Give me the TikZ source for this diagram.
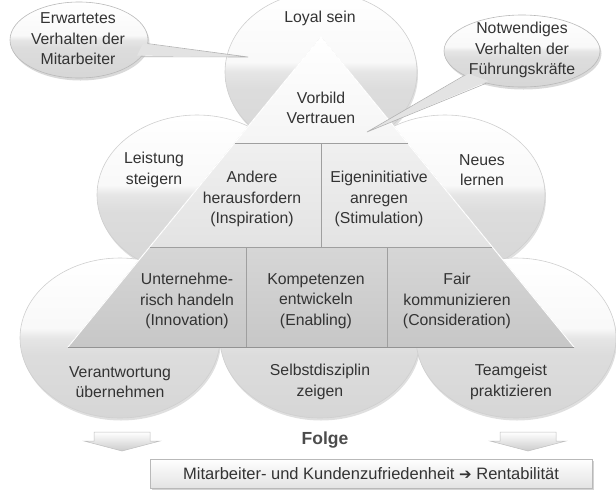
\documentclass[tikz,border=0pt]{standalone}
\usepackage{fontspec}
\setmainfont{Liberation Sans}
\newfontfamily\symfont{DejaVu Sans}
\usetikzlibrary{shapes.geometric,shadows,calc}
\definecolor{txt}{HTML}{333333}
\colorlet{bubA}{gray!32}
\colorlet{bubB}{gray!27}
\colorlet{bubC}{gray!20}
\colorlet{bubD}{gray!5}
\pgfdeclareverticalshading{bubble}{100bp}{color(0bp)=(bubA); color(25bp)=(bubA); color(45bp)=(bubB); color(50bp)=(bubC); color(53bp)=(bubD); color(75bp)=(white); color(100bp)=(white)}
\begin{document}
\begin{tikzpicture}[x=1pt,y=-1pt,
  bubblebox/.style={ellipse, inner sep=0pt, minimum width=200pt, minimum height=160pt,
    shading=bubble, draw=gray!38, line width=0.6pt,
    drop shadow={opacity=0.25, shadow xshift=1pt, shadow yshift=-2.5pt}},
  calloutbox/.style={ellipse, inner sep=0pt, shading=bubble, draw=gray!55, line width=0.6pt,
    drop shadow={opacity=0.3, shadow xshift=1.5pt, shadow yshift=-2.5pt}},
  lbl/.style={text=txt, font=\fontsize{15.8}{20.5}\selectfont, align=center, inner sep=0pt},
  sep/.style={draw=gray!75, line width=0.7pt},
  pointer/.style={fill=gray!22},
  pointeredge/.style={draw=gray!60, line width=0.6pt},
  arrowstyle/.style={top color=white, bottom color=gray!40, draw=gray!50, line width=0.5pt},
  downarrow/.pic={\draw[arrowstyle] (-28,0) -- (28,0) -- (28,9) -- (38,9) -- (0,19) -- (-38,9) -- (-28,9) -- cycle;}
]
\useasboundingbox (0,0) rectangle (616,491);

% background bubbles
\node[bubblebox, minimum width=192pt] (eTop) at (321,72) {};
\node[bubblebox] (eML) at (197,195) {};
\node[bubblebox] (eMR) at (445,195) {};
\node[bubblebox] (eBL) at (120,338) {};
\node[bubblebox] (eBM) at (320,338) {};
\node[bubblebox] (eBR) at (516,338) {};

% pyramid
\coordinate (A) at (321,37);
\coordinate (L1) at (234.5,143);
\coordinate (R1) at (407.5,143);
\coordinate (L2) at (149.6,247);
\coordinate (R2) at (492.4,247);
\coordinate (L3) at (68,347);
\coordinate (R3) at (574,347);
\coordinate (M2t) at (321,143);
\coordinate (M2b) at (321,247);
\coordinate (D1t) at (246,247);
\coordinate (D1b) at (246,347);
\coordinate (D2t) at (387,247);
\coordinate (D2b) at (387,347);
\fill[top color=white, bottom color=gray!8] (A) -- (R1) -- (L1) -- cycle;
\fill[top color=gray!12, bottom color=gray!22] (L1) -- (R1) -- (R2) -- (L2) -- cycle;
\fill[top color=gray!32, bottom color=gray!44] (L2) -- (R2) -- (R3) -- (L3) -- cycle;
\draw[white, line width=1pt] (L3) -- (A) -- (R3);
\draw[sep] (L1) -- (R1);
\draw[sep] (L2) -- (R2);
\draw[draw=gray!85, line width=0.9pt] (L3) -- (R3);
\draw[sep] (M2t) -- (M2b);
\draw[sep] (D1t) -- (D1b);
\draw[sep] (D2t) -- (D2b);

% texts in pyramid
\node[lbl] (tV) at (321,108) {Vorbild\\Vertrauen};
\node[lbl] (tA) at (252,199) {Andere\\herausfordern\\(Inspiration)};
\node[lbl] (tE) at (379,199) {Eigeninitiative\\anregen\\(Stimulation)};
\node[lbl] (tU) at (187,301) {Unternehme-\\risch handeln\\(Innovation)};
\node[lbl] (tK) at (316,301) {Kompetenzen\\entwickeln\\(Enabling)};
\node[lbl] (tF) at (457,301) {Fair\\kommunizieren\\(Consideration)};

% texts in bubbles
\node[lbl] (tLoy) at (320,18) {Loyal sein};
\node[lbl] (tLei) at (154,170) {Leistung\\steigern};
\node[lbl] (tNeu) at (482,170) {Neues\\lernen};
\node[lbl] (tVer) at (120,382) {Verantwortung\\übernehmen};
\node[lbl] (tSel) at (320,382) {Selbstdisziplin\\zeigen};
\node[lbl] (tTea) at (511,382) {Teamgeist\\praktizieren};

% callouts
\coordinate (tipL) at (248,57);
\coordinate (tipR) at (367,132);
\node[calloutbox, minimum width=138pt, minimum height=76pt] (cL) at (79,40) {};
\node[calloutbox, minimum width=156pt, minimum height=72pt] (cR) at (522,51) {};
\fill[pointer] ($(cL.center)!0.93!(cL.-3)$) -- (tipL) -- ($(cL.center)!0.93!(cL.-15)$) -- cycle;
\draw[pointeredge] (cL.-3) -- (tipL) -- (cL.-15);
\fill[pointer] ($(cR.center)!0.93!(cR.203)$) -- (tipR) -- ($(cR.center)!0.93!(cR.222)$) -- cycle;
\draw[pointeredge] (cR.203) -- (tipR) -- (cR.222);
\node[lbl] (tcL) at (78,39) {Erwartetes\\Verhalten der\\Mitarbeiter};
\node[lbl] (tcR) at (522,50) {Notwendiges\\Verhalten der\\Führungskräfte};

% consequence
\pic at (122,432) {downarrow};
\pic at (528,432) {downarrow};
\node[text=black!70, font=\fontsize{17.5}{20}\selectfont\bfseries, inner sep=0pt] (folge) at (325,440) {Folge};
\node[rectangle, minimum width=442pt, minimum height=29pt, inner sep=0pt,
  top color=white, bottom color=gray!22, draw=gray!55, line width=0.6pt,
  drop shadow={opacity=0.35, shadow xshift=2pt, shadow yshift=-2pt},
  text=txt, font=\fontsize{16.5}{20}\selectfont] (res) at (371,473.5)
  {Mitarbeiter- und Kundenzufriedenheit {\symfont\fontsize{15}{16}\selectfont ➔} Rentabilität};
\end{tikzpicture}
\end{document}
